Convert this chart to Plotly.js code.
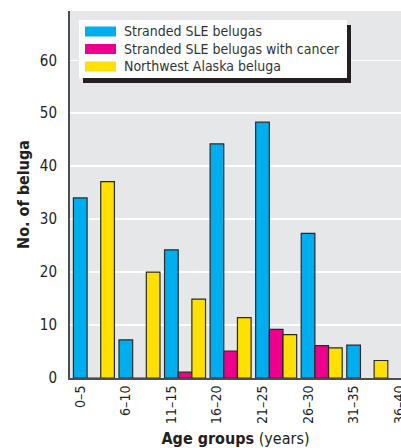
<!DOCTYPE html>
<html>
<head>
<meta charset="utf-8">
<script src="https://cdn.plot.ly/plotly-3.0.1.min.js"></script>
<style>html,body{margin:0;padding:0;overflow:hidden;background:#fff}#chart{width:401px;height:448px}</style>
</head>
<body>
<div id="chart"></div>
<script>
// ---- data ----
var ageGroups = ["0\u20135", "6\u201310", "11\u201315", "16\u201320", "21\u201325", "26\u201330", "31\u201335", "36\u201340"];
var seriesNames = ["Stranded SLE belugas", "Stranded SLE belugas with cancer", "Northwest Alaska beluga"];
var strandedSLE = [34, 7.2, 24.2, 44.2, 48.3, 27.3, 6.2, null];
var strandedCancer = [0, 0, 1.1, 5.1, 9.2, 6.1, null, null];
var alaskaBeluga = [37.1, 20, 14.9, 11.4, 8.2, 5.7, 3.3, null];
var seriesColors = ["#00AEEF", "#EC008C", "#FFE000"];

var FONT = "'DejaVu Sans Condensed', 'Liberation Sans Narrow', sans-serif";
var idx = ageGroups.map(function (_, i) { return i; });
var W = 0.3;
var seriesData = [strandedSLE, strandedCancer, alaskaBeluga];
var offsets = [-W / 2, W / 2, 1.5 * W];

var traces = seriesData.map(function (vals, k) {
  return {
    type: "bar",
    x: idx,
    y: vals,
    name: seriesNames[k],
    width: W,
    offset: offsets[k],
    marker: { color: seriesColors[k], line: { color: "#2a2a2a", width: 1.2 } },
    showlegend: false,
    hoverinfo: "skip"
  };
});

// page geometry
var L = 70, R = 0, T = 11, B = 70, FW = 401, FH = 448;
var PW = FW - L - R, PH = FH - T - B;
function px(x) { return (x - L) / PW; }
function py(y) { return (FH - B - y) / PH; }

var shapes = [
  { type: "rect", xref: "paper", yref: "paper", x0: px(83), x1: px(351), y0: py(83), y1: py(25), fillcolor: "#231f20", line: { width: 0 }, layer: "above" },
  { type: "rect", xref: "paper", yref: "paper", x0: px(79), x1: px(347), y0: py(78), y1: py(20), fillcolor: "#ffffff", line: { width: 0 }, layer: "above" }
];
var annotations = [];
var rowY = [31.5, 49, 66.5];
seriesNames.forEach(function (n, k) {
  shapes.push({ type: "rect", xref: "paper", yref: "paper", x0: px(85), x1: px(116), y0: py(rowY[k] + 5), y1: py(rowY[k] - 5), fillcolor: seriesColors[k], line: { width: 0 }, layer: "above" });
  annotations.push({ xref: "paper", yref: "paper", x: px(122), y: py(rowY[k]), xanchor: "left", yanchor: "middle", text: n, showarrow: false, font: { family: FONT, size: 14, color: "#333" } });
});

var layout = {
  width: FW, height: FH,
  margin: { l: L, r: R, t: T, b: B, pad: 0 },
  paper_bgcolor: "#ffffff",
  plot_bgcolor: "#E6E7E8",
  bargap: 0,
  xaxis: {
    range: [-0.225, 7.04],
    tickmode: "array",
    tickvals: idx,
    ticktext: ageGroups,
    tickangle: -90,
    ticks: "",
    ticklabeloverflow: "allow",
    showgrid: false,
    zeroline: false,
    showline: true, linecolor: "#4d4d4d", linewidth: 2,
    tickfont: { family: FONT, size: 14, color: "#231f20" },
    title: { text: "<b>Age groups</b> (years)", font: { family: FONT, size: 16, color: "#231f20" }, standoff: 10 },
    automargin: false,
    fixedrange: true
  },
  yaxis: {
    range: [0, 69.3],
    tickvals: [0, 10, 20, 30, 40, 50, 60],
    ticks: "",
    showgrid: true, gridcolor: "#ffffff", gridwidth: 1.5,
    zeroline: false,
    showline: true, linecolor: "#4d4d4d", linewidth: 2,
    tickfont: { family: FONT, size: 15, color: "#231f20" },
    ticklabelstandoff: 8,
    title: { text: "<b>No. of beluga</b>", font: { family: FONT, size: 16, color: "#231f20" }, standoff: 6 },
    automargin: false,
    fixedrange: true
  },
  shapes: shapes,
  annotations: annotations,
  showlegend: false
};

Plotly.newPlot("chart", traces, layout, { displayModeBar: false, staticPlot: true });
</script>
</body>
</html>
